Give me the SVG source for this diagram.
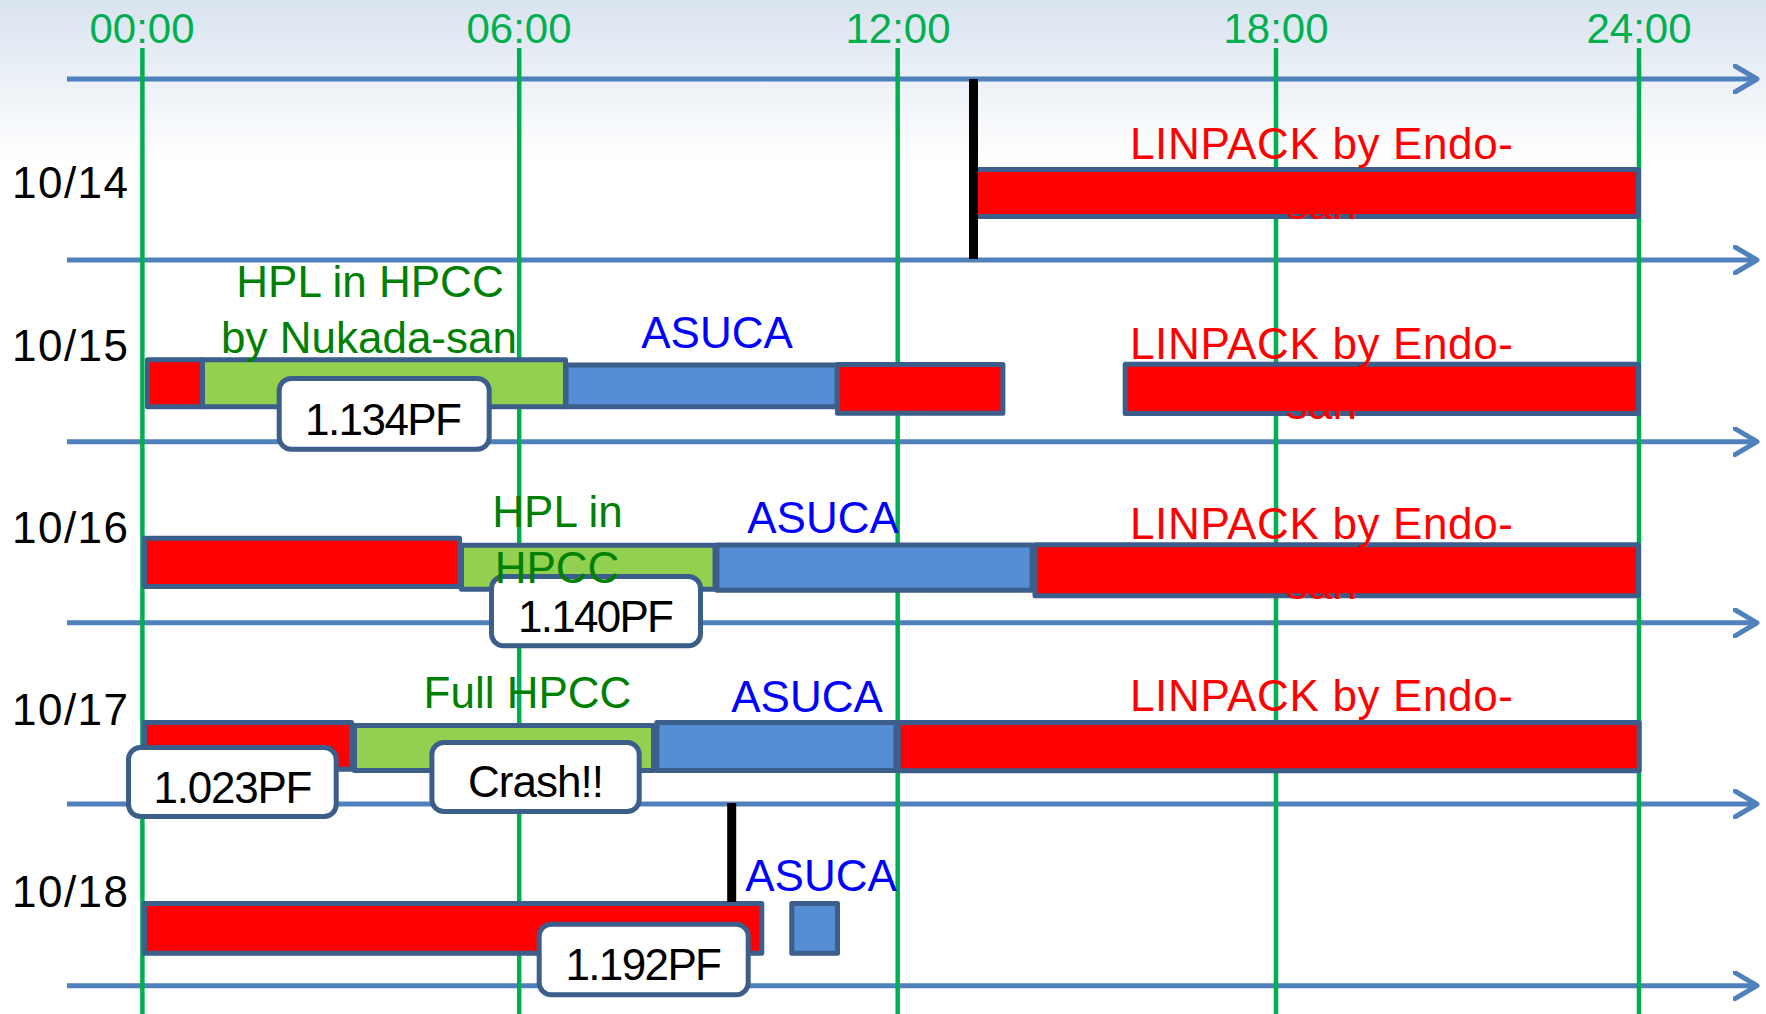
<svg xmlns="http://www.w3.org/2000/svg" width="1766" height="1014" viewBox="0 0 1766 1014">
<defs>
<linearGradient id="bg" x1="0" y1="0" x2="0" y2="1">
<stop offset="0" stop-color="#D9E3EF"/>
<stop offset="1" stop-color="#FFFFFF"/>
</linearGradient>
<marker id="chev" markerUnits="userSpaceOnUse" viewBox="0 0 30 30" markerWidth="30" markerHeight="30" refX="24" refY="15" orient="auto">
<path d="M2,2 L24,15 L2,28" fill="none" stroke="#4F81BD" stroke-width="5" stroke-linecap="round" stroke-linejoin="round"/>
</marker>
<style>
text{font-family:"Liberation Sans",Arial,sans-serif;font-size:44px}
.axis{stroke:#4F81BD;stroke-width:5;fill:none;marker-end:url(#chev)}
.grid{stroke:#00B050;stroke-width:4.5}
.time{fill:#00B050;font-size:42px;text-anchor:middle}
.date{fill:#000000}
.bar{stroke:#3B5E8B;stroke-width:5;stroke-linejoin:round}
.red{fill:#FF0000}
.grn{fill:#92D050}
.blu{fill:#558ED5}
.mark{stroke:#000000;stroke-width:9}
.lin{fill:#FF0000;text-anchor:middle}
.hpl{fill:#008000;text-anchor:middle}
.asu{fill:#0000FF;text-anchor:middle}
.call{fill:#FFFFFF;stroke:#3B5E8B;stroke-width:5}
.ct{fill:#000000;text-anchor:middle}
</style>
</defs>
<rect x="0" y="0" width="1766" height="1014" fill="#FFFFFF"/>
<rect x="0" y="0" width="1766" height="160" fill="url(#bg)"/>

<g id="connectors">
<line class="axis" x1="67" y1="79" x2="1757" y2="79"/>
<line class="axis" x1="67" y1="260" x2="1757" y2="260"/>
<line class="axis" x1="67" y1="441.7" x2="1757" y2="441.7"/>
<line class="axis" x1="67" y1="622.8" x2="1757" y2="622.8"/>
<line class="axis" x1="67" y1="804" x2="1757" y2="804"/>
<line class="axis" x1="67" y1="985.7" x2="1757" y2="985.7"/>
</g>

<g id="grid">
<line class="grid" x1="142.4" y1="48" x2="142.4" y2="1014"/>
<line class="grid" x1="519.2" y1="48" x2="519.2" y2="1014"/>
<line class="grid" x1="897.7" y1="48" x2="897.7" y2="1014"/>
<line class="grid" x1="1276" y1="48" x2="1276" y2="1014"/>
<line class="grid" x1="1639" y1="48" x2="1639" y2="1014"/>
</g>

<g id="time-labels">
<text class="time" x="142" y="43.3">00:00</text>
<text class="time" x="519" y="43.3">06:00</text>
<text class="time" x="898" y="43.3">12:00</text>
<text class="time" x="1276" y="43.3">18:00</text>
<text class="time" x="1639" y="43.3">24:00</text>
</g>

<g id="date-labels">
<text class="date" x="12" y="198.3" textLength="116">10/14</text>
<text class="date" x="12" y="361" textLength="116">10/15</text>
<text class="date" x="12" y="543" textLength="116">10/16</text>
<text class="date" x="12" y="725" textLength="116">10/17</text>
<text class="date" x="12" y="907" textLength="116">10/18</text>
</g>

<g id="row-1014">
<rect class="bar red" x="974.5" y="169.5" width="664" height="47"/>
<line class="mark" x1="973.5" y1="79" x2="973.5" y2="259"/>
<text class="lin" x="1321.5" y="159.3" textLength="383">LINPACK by Endo-</text>
<text class="lin" x="1321.5" y="219">san</text>
</g>

<g id="row-1015">
<rect class="bar red" x="147.5" y="359.8" width="55" height="47"/>
<rect class="bar grn" x="202.5" y="359.8" width="363" height="47"/>
<rect class="bar blu" x="566" y="365" width="271" height="41.8"/>
<rect class="bar red" x="837.5" y="364.5" width="165.4" height="48.7"/>
<rect class="bar red" x="1125.2" y="364.2" width="513.3" height="49.3"/>
<text class="hpl" x="370" y="296.7">HPL in HPCC</text>
<text class="hpl" x="369" y="353.3">by Nukada-san</text>
<text class="asu" x="717" y="347.7">ASUCA</text>
<text class="lin" x="1321.5" y="359.3" textLength="383">LINPACK by Endo-</text>
<text class="lin" x="1321.5" y="419">san</text>
</g>

<g id="row-1016">
<rect class="bar red" x="144.5" y="538.2" width="315" height="48.3"/>
<rect class="bar grn" x="461.5" y="545.2" width="253.5" height="44"/>
<rect class="bar blu" x="717" y="545" width="315" height="45.2"/>
<rect class="bar red" x="1035" y="544.8" width="603.5" height="51"/>
<text class="asu" x="823" y="533">ASUCA</text>
<text class="lin" x="1321.5" y="539.3" textLength="383">LINPACK by Endo-</text>
<text class="lin" x="1321.5" y="599">san</text>
</g>

<g id="row-1017">
<rect class="bar red" x="144.5" y="722.5" width="207" height="46.7"/>
<rect class="bar grn" x="354.5" y="725.5" width="299" height="45"/>
<rect class="bar blu" x="656.9" y="722.5" width="239" height="48"/>
<rect class="bar red" x="898.3" y="722.5" width="740.9" height="48.3"/>
<text class="hpl" x="527.5" y="708.3">Full HPCC</text>
<text class="asu" x="807" y="711.7">ASUCA</text>
<text class="lin" x="1321.5" y="710.7" textLength="383">LINPACK by Endo-</text>
</g>

<g id="row-1018">
<rect class="bar red" x="144.5" y="903.5" width="617.3" height="49.7"/>
<rect class="bar blu" x="791.8" y="903.5" width="45.7" height="49.7"/>
<line class="mark" x1="731.7" y1="803" x2="731.7" y2="902"/>
<text class="asu" x="821" y="890.7">ASUCA</text>
</g>

<g id="callout-1134">
<rect class="call" x="279.2" y="378.5" width="210" height="70.7" rx="12"/>
<text class="ct" x="383.5" y="435" textLength="157">1.134PF</text>
</g>
<g id="callout-1140">
<rect class="call" x="491.5" y="576.5" width="209" height="69.3" rx="12"/>
<text class="ct" x="596" y="631.7" textLength="156">1.140PF</text>
</g>
<g id="label-hpl-1016">
<text class="hpl" x="557.5" y="526.7">HPL in</text>
<text class="hpl" x="557" y="583.3">HPCC</text>
</g>
<g id="callout-1023">
<rect class="call" x="128.5" y="747.5" width="207.7" height="69" rx="12"/>
<text class="ct" x="233" y="802.7" textLength="159">1.023PF</text>
</g>
<g id="callout-crash">
<rect class="call" x="431.9" y="742.5" width="207.3" height="69" rx="12"/>
<text class="ct" x="536" y="797.3" textLength="136">Crash!!</text>
</g>
<g id="callout-1192">
<rect class="call" x="539.2" y="924.2" width="209" height="70.6" rx="12"/>
<text class="ct" x="643.7" y="980" textLength="156.6">1.192PF</text>
</g>
</svg>
